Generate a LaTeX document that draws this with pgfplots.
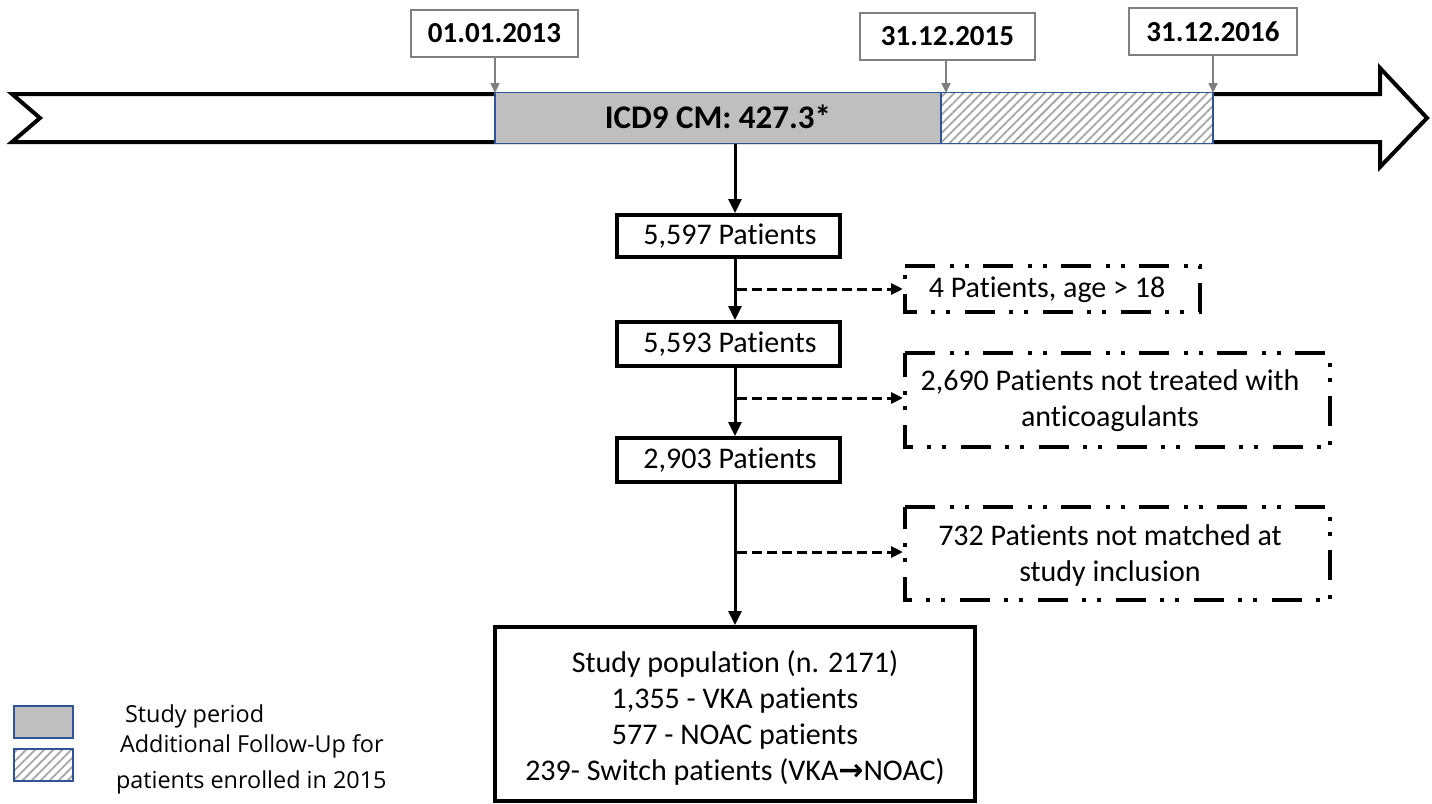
\documentclass[border=0pt]{standalone}
\usepackage{fontspec}
\setmainfont{Carlito}[Ligatures={NoCommon}]
\newfontfamily\legfont{Open Sans}
\newfontfamily\dejavu{DejaVu Sans}
\usepackage{pgfplots}
\pgfplotsset{compat=1.18}
\usetikzlibrary{arrows.meta,patterns.meta}
\definecolor{boxgrey}{HTML}{BFBFBF}
\definecolor{edgeblue}{HTML}{2F5597}
\definecolor{hatch}{HTML}{A6A6A6}
\definecolor{dategrey}{HTML}{7F7F7F}
\tikzset{
  hatchfill/.style={pattern={Lines[angle=45,distance=3.2bp,line width=0.9bp]}, pattern color=hatch},
  exdash/.style={line width=2bp, dash pattern=on 15bp off 7.5bp on 2bp off 5.5bp on 2bp off 7bp},
  flowarrow/.style={line width=1.5bp, -{Triangle[length=7bp,width=6.5bp]}},
  dasharrow/.style={line width=1.5bp, dash pattern=on 5bp off 2.5bp, -{Triangle[length=6bp,width=5.5bp]}},
  datearrow/.style={draw=dategrey, line width=0.8bp, -{Triangle[length=5bp,width=4.5bp]}},
  mainfont/.style={font=\fontsize{15bp}{18bp}\selectfont},
  datefont/.style={font=\bfseries\fontsize{14.5bp}{17bp}\selectfont},
}
\begin{document}
\begin{tikzpicture}
\begin{axis}[x=0.5bp, y=0.5bp, y dir=reverse,
  xmin=0, xmax=1432, ymin=0, ymax=803,
  hide axis, clip=false, no markers]
% invisible frame fixing the picture's extent
\addplot[draw=none] coordinates {(0,0) (1432,803)};
% timeline arrow
\addplot[draw=black, line width=2bp, fill=white, line join=miter] coordinates {(12,94) (1380,94) (1380,68) (1427,118) (1380,167) (1380,142) (12,142) (40,118)} -- cycle;
% study period
\addplot[draw=edgeblue, line width=0.8bp, fill=boxgrey] coordinates {(495,92.5) (941,92.5) (941,143.5) (495,143.5)} -- cycle;
% follow-up hatched
\addplot[draw=none, fill=white] coordinates {(941,92.5) (1213,92.5) (1213,143.5) (941,143.5)} -- cycle;
\addplot[draw=edgeblue, line width=0.8bp, hatchfill] coordinates {(941,92.5) (1213,92.5) (1213,143.5) (941,143.5)} -- cycle;
\node[font=\bfseries\fontsize{16.5bp}{19bp}\selectfont] at (axis cs:718,117) {ICD9 CM: 427.3*};
% date boxes
\addplot[draw=dategrey, line width=0.8bp, fill=white] coordinates {(411,10) (578,10) (578,57) (411,57)} -- cycle;
\node[datefont] at (axis cs:494.5,33.5) {01.01.2013};
\addplot[datearrow] coordinates {(495,57) (495,93)};
\addplot[draw=dategrey, line width=0.8bp, fill=white] coordinates {(860,13) (1035,13) (1035,60) (860,60)} -- cycle;
\node[datefont] at (axis cs:947.5,36.5) {31.12.2015};
\addplot[datearrow] coordinates {(946,60) (946,93)};
\addplot[draw=dategrey, line width=0.8bp, fill=white] coordinates {(1129,8) (1297,8) (1297,55) (1129,55)} -- cycle;
\node[datefont] at (axis cs:1213,31.5) {31.12.2016};
\addplot[datearrow] coordinates {(1213,55) (1213,93)};
% flow
\addplot[flowarrow] coordinates {(735,144) (735,213)};
\addplot[draw=black, line width=2bp, fill=white] coordinates {(617,215) (840,215) (840,257) (617,257)} -- cycle;
\node[mainfont] at (axis cs:730,236) {5,597 Patients};
\addplot[flowarrow] coordinates {(735,259) (735,320)};
\addplot[draw=black, line width=2bp, fill=white] coordinates {(617,322) (840,322) (840,366) (617,366)} -- cycle;
\node[mainfont] at (axis cs:730,344) {5,593 Patients};
\addplot[flowarrow] coordinates {(735,368) (735,436)};
\addplot[draw=black, line width=2bp, fill=white] coordinates {(617,438) (840,438) (840,482) (617,482)} -- cycle;
\node[mainfont] at (axis cs:730,460) {2,903 Patients};
\addplot[flowarrow] coordinates {(735,484) (735,625)};
\addplot[draw=black, line width=2bp, fill=white] coordinates {(495,627) (975,627) (975,801) (495,801)} -- cycle;
\node[mainfont, align=center] at (axis cs:735,718) {Study population (n. 2171)\\1,355 - VKA patients\\577 - NOAC patients\\239- Switch patients (VKA{\dejavu\bfseries →}NOAC)};
% exclusions
\addplot[dasharrow] coordinates {(737,289) (903,289)};
\addplot[draw=black, exdash, fill=white] coordinates {(905,266) (1200,266) (1200,312) (905,312)} -- cycle;
\node[mainfont] at (axis cs:1047,290) {4 Patients, age > 18};
\addplot[dasharrow] coordinates {(737,398) (903,398)};
\addplot[draw=black, exdash, fill=white] coordinates {(905,353) (1330,353) (1330,447) (905,447)} -- cycle;
\node[mainfont, align=center] at (axis cs:1110,401) {2,690 Patients not treated with\\anticoagulants};
\addplot[dasharrow] coordinates {(737,552) (903,552)};
\addplot[draw=black, exdash, fill=white] coordinates {(905,507) (1330,507) (1330,600) (905,600)} -- cycle;
\node[mainfont, align=center] at (axis cs:1110,555) {732 Patients not matched at\\study inclusion};
% legend
\addplot[draw=edgeblue, line width=0.8bp, fill=boxgrey] coordinates {(14,706) (73,706) (73,738) (14,738)} -- cycle;
\addplot[draw=none, fill=white] coordinates {(14,749) (73,749) (73,781) (14,781)} -- cycle;
\addplot[draw=edgeblue, line width=0.8bp, hatchfill] coordinates {(14,749) (73,749) (73,781) (14,781)} -- cycle;
\node[anchor=west, font=\legfont\fontsize{11.7bp}{14bp}\selectfont] at (axis cs:118,716) {Study period};
\node[anchor=west, font=\legfont\fontsize{11.7bp}{14bp}\selectfont] at (axis cs:113,746) {Additional Follow-Up for};
\node[anchor=west, font=\legfont\fontsize{11.7bp}{14bp}\selectfont] at (axis cs:109,782) {patients enrolled in 2015};
\end{axis}
\end{tikzpicture}
\end{document}
